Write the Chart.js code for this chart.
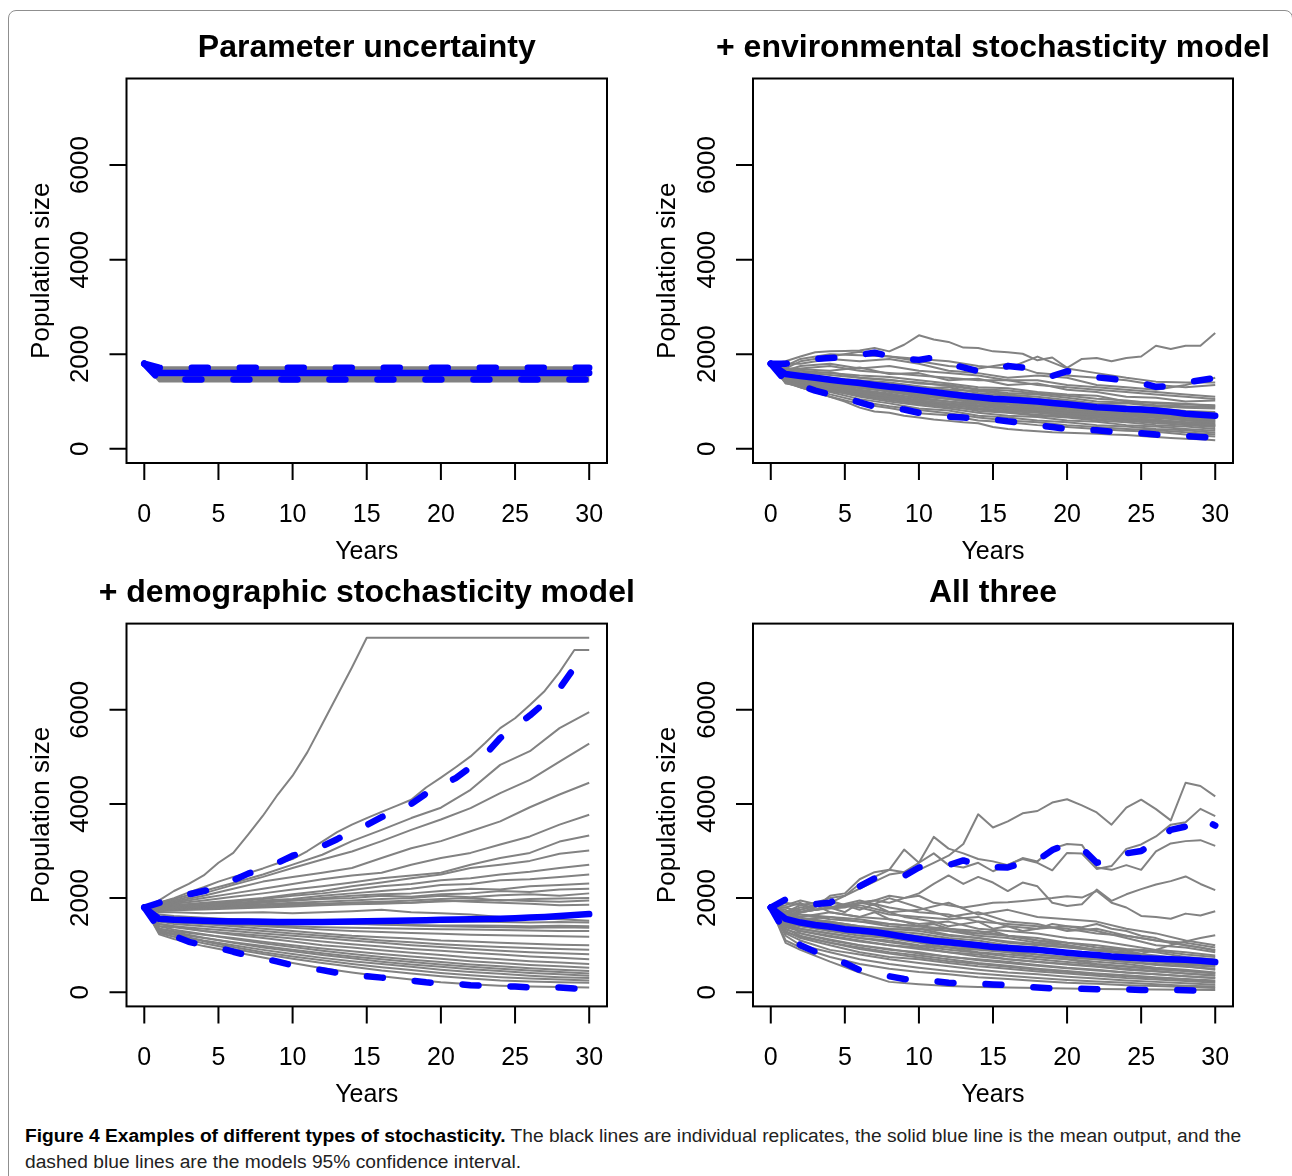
<!DOCTYPE html>
<html>
<head>
<meta charset="utf-8">
<script src="https://cdn.jsdelivr.net/npm/chart.js@4.4.1/dist/chart.umd.min.js"></script>
<style>
  body { margin: 0; background: #fff; width: 1292px; height: 1176px; overflow: hidden; position: relative; }
  .frame { position: absolute; left: 8px; top: 10px; width: 1283px; height: 1200px; border: 1px solid #8f8f8f; border-radius: 8px; }
  .panel { position: absolute; width: 646px; height: 560px; }
  .caption { position: absolute; left: 25px; top: 1123px; width: 1260px; font-family: "Liberation Sans", Arial, sans-serif; font-size: 19.2px; line-height: 26px; color: #222; white-space: nowrap; }
  .caption b { color: #000; }
</style>
</head>
<body>
<div class="frame"></div>
<div class="panel" style="left:0px;top:0px"><canvas id="p1" width="646" height="560"></canvas></div>
<div class="panel" style="left:646px;top:0px"><canvas id="p2" width="646" height="560"></canvas></div>
<div class="panel" style="left:0px;top:545px"><canvas id="p3" width="646" height="560"></canvas></div>
<div class="panel" style="left:646px;top:545px"><canvas id="p4" width="646" height="560"></canvas></div>
<div class="caption"><b>Figure 4 Examples of different types of stochasticity.</b> The black lines are individual replicates, the solid blue line is the mean output, and the<br>dashed blue lines are the models 95% confidence interval.</div>

<script>
// Eixos
const xTicks = [0, 5, 10, 15, 20, 25, 30];
const yTicks = [0, 2000, 4000, 6000];
const years = [0,1,2,3,4,5,6,7,8,9,10,11,12,13,14,15,16,17,18,19,20,21,22,23,24,25,26,27,28,29,30];
const yearsCoarse = [0,1,2,4,6,8,10,12,14,16,18,20,22,24,26,28,30];
const yearsFlat = [0, 1, 30];

// Painel 1 - Parameter uncertainty
const paramMean = [1800, 1605, 1605];
const paramUpper = [1800, 1715, 1715];
const paramLower = [1800, 1465, 1465];
const paramReps = [
  [1800,1425,1425],[1800,1455,1455],[1800,1485,1485],[1800,1515,1515],
  [1800,1545,1545],[1800,1575,1575],[1800,1605,1605],[1800,1635,1635],
  [1800,1665,1665],[1800,1695,1695],[1800,1725,1725]
];

// Painel 2 - environmental stochasticity
const envMean = [1800,1580,1540,1500,1460,1420,1390,1350,1310,1280,1240,1200,1160,1120,1090,1060,1040,1020,1000,970,940,910,880,860,840,830,810,780,740,720,700];
const envUpper = [1800,1800,1830,1900,1920,1930,1990,2030,1960,1900,1880,1930,1800,1720,1640,1650,1750,1720,1620,1540,1640,1560,1510,1480,1440,1390,1310,1330,1400,1450,1500];
const envLower = [1800,1430,1340,1230,1150,1080,980,890,870,830,760,720,680,660,640,620,580,550,500,460,420,410,390,360,340,330,300,280,270,250,230];
const envRepsFull = [
  [1800,1850,1950,2040,2060,2070,2080,2130,2060,2200,2400,2310,2260,2140,2130,2060,2040,2010,1870,1930,1710,1900,1920,1850,1920,1950,2180,2110,2180,2180,2450],
  [1800,1450,1300,1200,1100,1000,870,790,760,700,660,620,590,560,540,460,420,390,370,350,340,330,320,300,290,270,250,230,210,200,180]
];
const envRepsCoarse = [
  [1800,1750,1900,2000,1980,1950,1900,1850,1750,1700,1950,1700,1600,1500,1420,1400,1400],
  [1800,1700,1850,1950,2050,1950,1850,1750,1700,1800,1600,1550,1500,1450,1350,1300,1350],
  [1800,1800,1800,1900,1850,1900,1800,1650,1600,1500,1550,1500,1350,1300,1250,1350,1500],
  [1800,1650,1750,1800,1700,1750,1650,1600,1550,1450,1450,1350,1300,1250,1200,1150,1100],
  [1800,1700,1700,1750,1650,1600,1550,1500,1450,1450,1350,1300,1250,1200,1150,1100,1050],
  [1800,1600,1680,1650,1720,1580,1600,1450,1480,1350,1380,1250,1200,1100,1080,1000,1020],
  [1800,1700,1650,1600,1550,1520,1450,1380,1300,1280,1200,1150,1120,1000,980,950,900],
  [1800,1550,1550,1500,1450,1400,1320,1250,1220,1150,1100,1030,950,960,900,870,850],
  [1800,1500,1500,1450,1400,1350,1250,1220,1150,1080,1000,970,900,850,820,780,750],
  [1800,1650,1600,1500,1420,1300,1260,1150,1120,1000,970,900,870,800,760,700,680],
  [1800,1450,1450,1400,1300,1270,1150,1100,1020,950,920,850,820,750,720,650,620],
  [1800,1600,1500,1420,1350,1200,1120,1050,970,900,870,800,760,700,670,600,560],
  [1800,1500,1400,1350,1250,1170,1050,1000,920,850,820,750,720,650,620,550,500],
  [1800,1400,1400,1300,1200,1100,1020,950,860,800,770,700,670,600,570,500,460],
  [1800,1550,1450,1300,1150,1060,950,910,800,760,700,660,600,560,500,470,420],
  [1800,1450,1350,1250,1100,1000,920,850,760,700,670,600,570,500,470,420,380],
  [1800,1400,1300,1200,1050,960,850,810,700,660,600,560,500,470,420,390,340],
  [1800,1500,1350,1150,1000,900,820,750,660,600,560,500,460,420,390,350,300],
  [1800,1400,1300,1100,950,860,750,710,600,560,500,460,420,380,360,300,260],
  [1800,1600,1550,1450,1350,1300,1200,1160,1050,1010,950,910,850,810,760,730,700],
  [1800,1500,1450,1350,1300,1210,1100,1060,1000,950,910,850,780,730,680,640,600],
  [1800,1550,1500,1400,1300,1220,1150,1100,1050,1000,940,880,820,790,740,700,650],
  [1800,1450,1400,1250,1150,1100,1000,960,900,850,810,750,700,660,600,560,520],
  [1800,1650,1580,1620,1500,1450,1400,1330,1250,1180,1150,1080,1000,980,920,900,880],
  [1800,1550,1600,1480,1420,1380,1280,1300,1180,1120,1060,1000,940,900,860,800,780],
  [1800,1480,1420,1380,1320,1250,1180,1120,1080,1000,960,880,850,800,740,720,660],
  [1800,1620,1520,1500,1380,1320,1230,1180,1100,1050,980,930,880,820,780,740,720],
  [1800,1420,1380,1300,1240,1150,1080,1000,950,880,840,780,740,690,650,610,580],
  [1800,1580,1480,1380,1280,1220,1130,1060,980,930,880,820,780,740,700,680,640],
  [1800,1380,1330,1220,1120,1030,950,880,830,770,720,680,630,590,540,510,480],
  [1800,1520,1420,1330,1220,1130,1020,960,900,830,790,720,690,640,600,560,540],
  [1800,1680,1620,1560,1500,1460,1380,1350,1260,1230,1170,1120,1060,1020,960,940,920],
  [1800,1460,1380,1270,1180,1080,980,930,850,800,760,710,660,620,580,540,490]
];

// Painel 3 - demographic stochasticity
const demoMean = [1800,1560,1540,1530,1520,1510,1505,1500,1495,1490,1490,1490,1490,1495,1500,1510,1515,1520,1525,1530,1540,1545,1550,1555,1560,1570,1585,1600,1620,1640,1660];
const demoUpper = [1800,1900,2000,2080,2150,2220,2380,2520,2620,2750,2900,3000,3100,3250,3420,3550,3720,3850,4000,4220,4380,4550,4780,5050,5400,5650,5880,6150,6450,6900,7150];
const demoLower = [1800,1350,1200,1070,1000,950,860,780,720,650,570,520,470,410,370,340,310,280,250,210,190,180,150,140,130,120,100,100,100,80,70];
const demoRepsFull = [
  [1800,1950,2150,2300,2480,2750,2960,3350,3750,4200,4600,5100,5700,6300,6900,7530,7530,7530,7530,7530,7530,7530,7530,7530,7530,7530,7530,7530,7530,7530,7530],
  [1800,1900,2000,2120,2230,2350,2450,2530,2630,2740,2830,3000,3200,3400,3560,3700,3830,3960,4090,4350,4560,4780,5010,5300,5610,5820,6100,6400,6800,7270,7270]
];
const demoRepsCoarse = [
  [1800,1900,1980,2150,2320,2500,2710,2920,3210,3450,3700,3920,4300,4830,5120,5610,5950],
  [1800,1880,1950,2100,2280,2450,2640,2820,2990,3210,3450,3670,3910,4230,4510,4900,5280],
  [1800,1850,1920,2050,2200,2350,2450,2540,2640,2850,3060,3210,3420,3630,3930,4200,4450],
  [1800,1850,1900,2000,2100,2200,2300,2400,2480,2540,2710,2850,2960,3140,3310,3560,3770],
  [1800,1820,1880,1950,2030,2100,2180,2250,2330,2420,2480,2540,2710,2850,2960,3200,3330],
  [1800,1800,1850,1900,1950,2000,2080,2150,2250,2330,2420,2500,2640,2710,2790,2940,3010],
  [1800,1780,1820,1880,1920,1980,2050,2100,2170,2250,2300,2380,2420,2500,2560,2640,2710],
  [1800,1850,1800,1850,1880,1950,1980,2050,2100,2150,2200,2280,2300,2380,2400,2450,2500],
  [1800,1760,1780,1820,1860,1900,1950,2000,2050,2080,2100,2150,2200,2180,2250,2280,2310],
  [1800,1820,1850,1880,1900,1920,1950,1980,2000,2050,2030,2080,2100,2150,2130,2180,2200],
  [1800,1780,1800,1830,1850,1870,1900,1920,1950,1980,2000,2050,2020,2060,2080,2050,2100],
  [1800,1760,1780,1800,1820,1850,1880,1870,1900,1920,1950,1980,2000,1950,1980,1990,2000],
  [1800,1740,1760,1780,1800,1820,1850,1880,1900,1920,1900,1930,1950,1960,1940,1920,1950],
  [1800,1720,1740,1760,1780,1800,1820,1850,1870,1880,1900,1950,1920,1900,1880,1850,1860],
  [1800,1700,1700,1680,1690,1700,1680,1700,1720,1750,1700,1680,1650,1600,1580,1550,1520],
  [1800,1600,1580,1560,1550,1540,1530,1520,1510,1500,1500,1490,1500,1490,1480,1490,1480],
  [1800,1550,1540,1520,1500,1480,1470,1460,1450,1440,1430,1420,1420,1410,1400,1410,1400],
  [1800,1650,1620,1580,1550,1520,1500,1480,1460,1440,1420,1400,1390,1380,1370,1380,1370],
  [1800,1500,1480,1450,1430,1420,1400,1380,1370,1360,1350,1340,1330,1320,1310,1300,1300],
  [1800,1600,1560,1500,1450,1400,1370,1330,1300,1280,1260,1240,1220,1210,1200,1190,1180],
  [1800,1550,1500,1450,1400,1350,1300,1250,1200,1170,1140,1100,1080,1050,1030,1010,1000],
  [1800,1500,1450,1400,1350,1300,1250,1200,1150,1100,1060,1020,990,960,940,920,900],
  [1800,1450,1400,1350,1300,1250,1200,1150,1100,1050,1000,960,920,880,850,830,805],
  [1800,1400,1380,1300,1250,1200,1140,1080,1020,970,920,880,840,800,760,730,700],
  [1800,1450,1400,1300,1220,1150,1080,1000,950,890,840,790,740,700,660,630,600],
  [1800,1350,1300,1220,1150,1070,1000,930,870,810,760,710,660,620,580,550,520],
  [1800,1400,1330,1230,1130,1040,960,880,810,750,690,640,590,550,510,480,450],
  [1800,1300,1250,1150,1060,980,900,830,760,700,640,590,540,500,460,430,400],
  [1800,1350,1280,1160,1050,950,870,790,720,650,590,540,490,450,410,380,350],
  [1800,1280,1220,1100,1000,900,810,730,660,600,540,480,430,390,350,320,300],
  [1800,1320,1230,1080,960,850,760,680,600,530,470,410,360,320,290,270,250],
  [1800,1260,1180,1040,920,810,710,620,540,460,400,340,290,250,230,210,200],
  [1800,1230,1130,980,860,740,620,510,420,340,270,210,170,140,120,110,100]
];

// Painel 4 - All three
const allMean = [1800,1560,1480,1430,1390,1340,1310,1280,1230,1180,1130,1090,1060,1030,1000,960,940,920,900,870,840,810,790,760,740,720,710,700,690,670,640];
const allUpper = [1800,1970,1930,1870,1900,2070,2250,2420,2460,2470,2650,2700,2700,2800,2700,2660,2650,2750,2800,3020,3150,3060,2750,2800,2950,3000,3200,3450,3520,3700,3540];
const allLower = [1800,1250,1000,860,730,620,470,400,340,280,260,240,200,190,180,165,150,120,100,80,80,75,65,60,60,50,50,50,40,35,30];
const allRepsFull = [
  [1800,1700,1850,1900,2000,2050,2200,2350,2500,2550,2600,2750,2900,3150,3780,3500,3630,3800,3850,4030,4100,3970,3820,3560,3920,4090,3890,3650,4450,4380,4160],
  [1800,1700,1800,1850,1900,2050,2300,2450,2600,3030,2750,3300,3050,2950,2830,2780,2700,2850,2780,3050,3150,3130,2650,2600,2700,2600,2990,3160,3210,3230,3110],
  [1800,1650,1700,1800,2050,2100,2400,2550,2600,2550,2750,2950,2700,2650,2750,2570,2710,2830,2750,2590,2960,2945,2620,2680,3045,3140,3310,3560,3610,3895,3740],
  [1800,1600,1700,1750,1800,1850,1900,1950,2050,2000,2100,2300,2480,2300,2450,2330,2150,2330,2250,1900,1830,1870,2180,1940,2080,2190,2290,2360,2460,2300,2170],
  [1800,1650,1700,1750,1780,1800,1900,1950,1900,2000,2050,1900,1850,1800,1850,1900,1910,1940,1970,2000,2040,2010,2150,1900,1800,1620,1600,1560,1670,1630,1720],
  [1800,1700,1750,1850,1700,1650,1600,1700,1550,1500,1400,1450,1350,1300,1250,1300,1200,1150,1100,1050,1000,950,900,920,880,820,900,1000,1080,1150,1210],
  [1800,1800,1900,1750,1800,1700,1900,1850,1700,1600,1550,1500,1400,1450,1500,1350,1400,1300,1350,1450,1400,1380,1450,1350,1300,1200,1150,1050,1000,950,880]
];
const allRepsCoarse = [
  [1800,1850,1950,1800,1950,1800,1700,1650,1500,1450,1400,1350,1250,1200,1100,1000,900],
  [1800,1700,1750,1900,1800,1650,1600,1550,1600,1400,1350,1400,1300,1150,1000,950,850],
  [1800,1650,1600,1700,1600,1550,1450,1500,1350,1300,1250,1150,1100,1000,900,850,780],
  [1800,1600,1650,1550,1500,1450,1400,1300,1250,1200,1100,1050,950,900,850,750,700],
  [1800,1750,1550,1500,1400,1350,1300,1200,1150,1050,1000,950,900,800,750,700,620],
  [1800,1500,1450,1400,1350,1250,1200,1100,1050,950,900,850,800,750,650,600,550],
  [1800,1550,1400,1350,1250,1200,1100,1000,950,900,800,750,700,650,600,550,480],
  [1800,1450,1350,1250,1150,1100,1000,950,850,800,750,700,650,600,520,480,420],
  [1800,1400,1300,1200,1100,1000,950,850,800,700,650,600,550,500,450,400,360],
  [1800,1500,1250,1100,1000,900,850,750,700,650,580,520,480,420,380,340,300],
  [1800,1350,1200,1050,950,850,780,700,620,560,500,450,400,360,320,280,250],
  [1800,1300,1150,1000,850,750,700,620,550,500,440,400,350,300,270,240,200],
  [1800,1250,1100,900,800,700,620,550,480,420,380,330,290,250,220,190,160],
  [1800,1200,1000,850,700,600,520,450,400,350,300,260,230,200,170,140,120],
  [1800,1100,950,750,600,500,430,380,320,280,240,200,180,150,130,110,90],
  [1800,1050,900,650,420,220,170,130,110,100,90,80,70,65,60,55,50],
  [1800,1900,1850,1950,1750,2000,1800,1600,1700,1500,1450,1300,1350,1200,1100,1050,950],
  [1800,1800,1700,1800,1850,1700,1750,1900,1650,1750,1600,1550,1500,1350,1250,1100,1000],
  [1800,1600,1550,1600,1500,1400,1350,1300,1200,1150,1050,1000,900,850,780,700,650],
  [1800,1450,1400,1300,1200,1150,1050,950,900,850,750,700,600,550,500,450,400],
  [1800,1550,1500,1450,1380,1300,1250,1150,1100,1000,950,870,820,760,700,660,600],
  [1800,1480,1420,1300,1250,1150,1080,1000,920,860,800,740,700,640,580,540,500],
  [1800,1620,1580,1500,1400,1330,1350,1220,1150,1080,1020,960,880,830,760,720,680],
  [1800,1380,1300,1180,1080,1000,920,850,760,700,640,590,540,480,440,400,350],
  [1800,1700,1650,1600,1550,1450,1400,1350,1300,1200,1150,1050,1000,920,880,800,750],
  [1800,1330,1250,1120,1000,920,820,760,680,620,560,510,460,420,380,340,300],
  [1800,1520,1450,1380,1300,1200,1120,1050,980,900,860,800,740,690,640,580,540],
  [1800,1280,1180,1050,920,820,740,660,600,540,480,430,380,340,300,270,230],
  [1800,1580,1520,1480,1350,1280,1180,1120,1030,960,900,850,780,730,680,620,580],
  [1800,1420,1350,1250,1150,1060,980,900,840,760,700,640,590,540,490,450,410]
];

const panels = [
  { id: 'p1', title: 'Parameter uncertainty', pad: { left: 126.5, top: 78.5, right: 39, bottom: 97 },
    xs: yearsFlat, mean: paramMean, upper: paramUpper, lower: paramLower, reps: [[yearsFlat, paramReps]] },
  { id: 'p2', title: '+ environmental stochasticity model', pad: { left: 107, top: 78.5, right: 59, bottom: 97 },
    xs: years, mean: envMean, upper: envUpper, lower: envLower, reps: [[years, envRepsFull], [yearsCoarse, envRepsCoarse]] },
  { id: 'p3', title: '+ demographic stochasticity model', pad: { left: 126.5, top: 78.6, right: 39, bottom: 98.6 },
    xs: years, mean: demoMean, upper: demoUpper, lower: demoLower, reps: [[years, demoRepsFull], [yearsCoarse, demoRepsCoarse]] },
  { id: 'p4', title: 'All three', pad: { left: 107, top: 78.6, right: 59, bottom: 98.6 },
    xs: years, mean: allMean, upper: allUpper, lower: allLower, reps: [[years, allRepsFull], [yearsCoarse, allRepsCoarse]] }
];

const FONT = '"Liberation Sans", Arial, Helvetica, sans-serif';

function toPoints(xs, ys) {
  return xs.map((x, i) => ({ x: x, y: ys[i] }));
}

// Desenha caixa, ticks e textos no estilo do R
const rStyleAxes = {
  id: 'rStyleAxes',
  afterDraw(chart, args, opts) {
    const ctx = chart.ctx;
    const { left, right, top, bottom } = chart.chartArea;
    const xs = chart.scales.x, ys = chart.scales.y;
    ctx.save();
    ctx.strokeStyle = '#000';
    ctx.fillStyle = '#000';
    ctx.lineWidth = 2;
    ctx.strokeRect(left, top, right - left, bottom - top);
    ctx.beginPath();
    xTicks.forEach(v => {
      const px = xs.getPixelForValue(v);
      ctx.moveTo(px, bottom);
      ctx.lineTo(px, bottom + 17);
    });
    yTicks.forEach(v => {
      const py = ys.getPixelForValue(v);
      ctx.moveTo(left, py);
      ctx.lineTo(left - 17, py);
    });
    ctx.stroke();

    ctx.textAlign = 'center';
    ctx.textBaseline = 'alphabetic';
    ctx.font = '25px ' + FONT;
    xTicks.forEach(v => ctx.fillText(String(v), xs.getPixelForValue(v), bottom + 58.5));
    ctx.fillText('Years', (left + right) / 2, bottom + 96);

    ctx.font = '26px ' + FONT;
    yTicks.forEach(v => {
      ctx.save();
      ctx.translate(left - 38.5, ys.getPixelForValue(v));
      ctx.rotate(-Math.PI / 2);
      ctx.fillText(String(v), 0, 0);
      ctx.restore();
    });
    ctx.save();
    ctx.translate(left - 78, (top + bottom) / 2);
    ctx.rotate(-Math.PI / 2);
    ctx.fillText('Population size', 0, 0);
    ctx.restore();

    ctx.font = 'bold 32px ' + FONT;
    ctx.fillText(opts.title, (left + right) / 2, top - 22);
    ctx.restore();
  }
};

panels.forEach(p => {
  const blue = '#0000ff';
  const datasets = [
    { data: toPoints(p.xs, p.upper), borderColor: blue, borderWidth: 6.5, borderDash: [16, 32], borderCapStyle: 'round', borderJoinStyle: 'round' },
    { data: toPoints(p.xs, p.lower), borderColor: blue, borderWidth: 6.5, borderDash: [16, 32], borderCapStyle: 'round', borderJoinStyle: 'round' },
    { data: toPoints(p.xs, p.mean), borderColor: blue, borderWidth: 6.5, borderCapStyle: 'round', borderJoinStyle: 'round' }
  ];
  p.reps.forEach(([xs, lines]) => {
    lines.forEach(line => {
      datasets.push({ data: toPoints(xs, line), borderColor: '#828282', borderWidth: 2, borderJoinStyle: 'round' });
    });
  });

  new Chart(document.getElementById(p.id), {
    type: 'line',
    data: { datasets: datasets },
    options: {
      responsive: false,
      animation: false,
      devicePixelRatio: 1,
      events: [],
      layout: { padding: p.pad },
      elements: { point: { radius: 0 }, line: { tension: 0, fill: false } },
      scales: {
        x: { type: 'linear', min: -1.2, max: 31.2, display: false },
        y: { type: 'linear', min: -301, max: 7831, display: false }
      },
      plugins: {
        legend: { display: false },
        tooltip: { enabled: false },
        rStyleAxes: { title: p.title }
      }
    },
    plugins: [rStyleAxes]
  });
});
</script>
</body>
</html>
